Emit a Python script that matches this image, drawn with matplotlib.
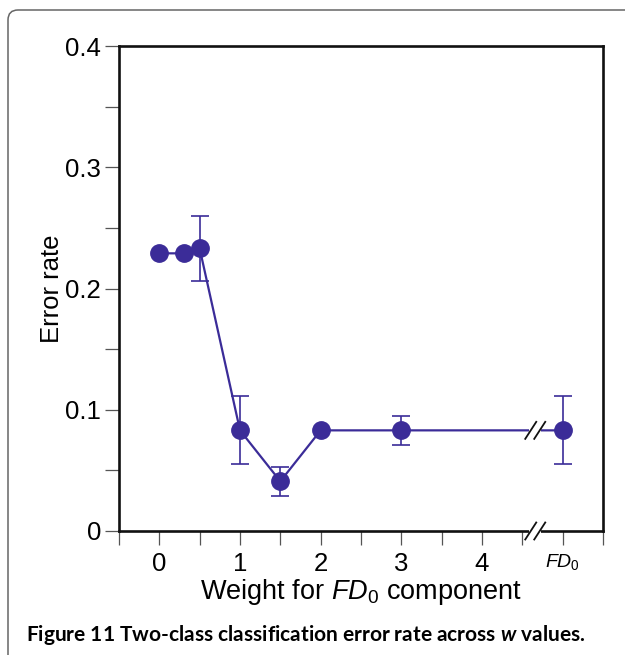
import matplotlib
matplotlib.use('Agg')
import matplotlib.pyplot as plt
import matplotlib.transforms as mtransforms
from matplotlib.patches import FancyBboxPatch
import numpy as np

plt.rcParams['font.family'] = ['Liberation Sans', 'DejaVu Sans']
plt.rcParams['mathtext.fontset'] = 'custom'
plt.rcParams['mathtext.it'] = 'Liberation Sans:italic'
plt.rcParams['mathtext.rm'] = 'Liberation Sans'
plt.rcParams['mathtext.bfit'] = 'Lato:italic:bold'

# Data (FD0 drawn at position 5, after the axis break)
weights = [0, 0.3, 0.5, 1, 1.5, 2, 3, 5]
error_rate = [0.229, 0.229, 0.233, 0.083, 0.041, 0.083, 0.083, 0.083]
error_sd = [0, 0, 0.027, 0.028, 0.012, 0, 0.012, 0.028]

x_tick_pos = [0, 1, 2, 3, 4, 5]
x_tick_labels = ['0', '1', '2', '3', '4', r'$\mathit{FD}_\mathit{0}$']
break_x = 4.66

color = '#3b2c98'

fig = plt.figure(figsize=(6.25, 6.55), dpi=100)
ax = fig.add_axes([119 / 625, 1 - 531 / 655, 484 / 625, 485 / 655])

# frame around the figure panel
frame = FancyBboxPatch((0.08, -0.6), 7.0, 6.55 - 0.10 + 0.6,
                       boxstyle='round,pad=0,rounding_size=0.1',
                       transform=fig.dpi_scale_trans, facecolor='none',
                       edgecolor='#666666', linewidth=1.1, clip_on=False)
fig.patches.append(frame)

ax.plot(weights, error_rate, color=color, lw=1.6, zorder=2)
ax.plot(weights, error_rate, 'o', color=color, ms=12.5, zorder=3)

w = np.array(weights)
r = np.array(error_rate)
s = np.array(error_sd)
has_err = s > 0
ax.errorbar(w[has_err], r[has_err], yerr=s[has_err], fmt='none', ecolor=color,
            elinewidth=1.2, capsize=6.5, capthick=1.2, zorder=2)

ax.set_xlim(-0.5, 5.5)
ax.set_ylim(0, 0.4)

ax.set_xticks(np.arange(-0.5, 5.51, 0.5), minor=True)
ax.set_xticks(x_tick_pos)
ax.set_xticklabels(x_tick_labels)
ax.set_yticks(np.arange(0, 0.401, 0.05), minor=True)
ax.set_yticks([0, 0.1, 0.2, 0.3, 0.4])
ax.set_yticklabels(['0', '0.1', '0.2', '0.3', '0.4'])

for lbl in ax.get_xticklabels():
    if 'FD' in lbl.get_text():
        lbl.set_fontsize(14)
    else:
        lbl.set_fontsize(18.5)
ax.tick_params(axis='y', labelsize=18.5)
ax.tick_params(which='both', direction='out', length=10, width=0.9,
               color='#555555')
ax.tick_params(axis='x', which='both', pad=5)
ax.tick_params(axis='y', which='both', pad=3)

for sp in ax.spines.values():
    sp.set_linewidth(1.9)
    sp.set_color('#111111')

ax.set_ylabel('Error rate', fontsize=18.5, labelpad=1)
ax.set_xlabel(r'Weight for $\mathit{FD}_\mathit{0}$ component', fontsize=19.5,
              labelpad=1)

# break marks on the axis and on the line
def draw_break(x, y):
    tr = fig.dpi_scale_trans + mtransforms.ScaledTranslation(x, y, ax.transData)
    ax.plot([-0.06, 0.06], [0, 0], color='white', lw=4, transform=tr,
            clip_on=False, zorder=5, solid_capstyle='butt')
    for dx in (-0.045, 0.045):
        ax.plot([dx - 0.055, dx + 0.055], [-0.085, 0.085], color='#111111',
                lw=1.3, transform=tr, clip_on=False, zorder=6)

draw_break(break_x, 0)
draw_break(break_x, error_rate[-1])

fig.text(26 / 625, 1 - 641 / 655,
         r'Figure 11 Two-class classification error rate across $\mathbfit{w}$ values.',
         fontsize=15, fontweight='bold', family=['Lato', 'DejaVu Sans'],
         ha='left', va='baseline')

fig.savefig('out.png', dpi=100)
